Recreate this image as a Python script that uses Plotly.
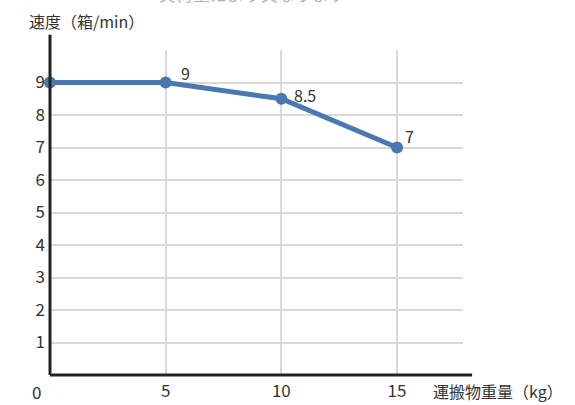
import plotly.graph_objects as go

# Conveyed load (kg) vs. speed (boxes/min)
weights = [0, 5, 10, 15]
speeds = [9, 9, 8.5, 7]
label_text = ["", "9", "8.5", "7"]
x_ticks = [5, 10, 15]
y_ticks = [1, 2, 3, 4, 5, 6, 7, 8, 9]

FONT = "Noto Sans CJK JP"
LINE_COLOR = "#4a78b0"
TEXT_COLOR = "#333333"

fig = go.Figure()
fig.add_trace(go.Scatter(
    x=weights, y=speeds,
    mode="lines+markers",
    line=dict(color=LINE_COLOR, width=5),
    marker=dict(color=LINE_COLOR, size=12),
    cliponaxis=False,
    hoverinfo="skip",
))

# Value labels beside each point (pixel offsets keep them clear of the line)
label_offsets = [(0, 0), (13, 10), (11, 4), (6, 12)]
for x, y, t, (dx, dy) in zip(weights, speeds, label_text, label_offsets):
    if t:
        fig.add_annotation(x=x, y=y, text=t, showarrow=False,
                           xanchor="left", yanchor="middle",
                           xshift=dx, yshift=dy,
                           font=dict(family=FONT, size=16, color=TEXT_COLOR))

fig.update_layout(
    width=575, height=405,
    margin=dict(l=50, r=112, t=50, b=30),
    paper_bgcolor="white", plot_bgcolor="white",
    showlegend=False,
    font=dict(family=FONT, size=17, color=TEXT_COLOR),
    xaxis=dict(
        range=[0, 17.85], tickvals=x_ticks, ticktext=[str(v) for v in x_ticks],
        showgrid=True, gridcolor="#d9d9d9", gridwidth=2,
        zeroline=False, showline=False, ticks="",
        ticklabelstandoff=4, automargin=False,
        tickfont=dict(family=FONT, size=17, color=TEXT_COLOR),
    ),
    yaxis=dict(
        range=[0, 10], tickvals=y_ticks + [10], ticktext=[str(v) for v in y_ticks] + [""],
        showgrid=True, gridcolor="#d9d9d9", gridwidth=2,
        zeroline=False, showline=False, ticks="",
        ticklabelstandoff=4, automargin=False,
        tickfont=dict(family=FONT, size=17, color=TEXT_COLOR),
    ),
)

# Axis lines, extended past the plotting area
fig.add_shape(type="line", xref="paper", yref="paper",
              x0=0, x1=0, y0=0, y1=1.047, line=dict(color="#222222", width=3))
fig.add_shape(type="line", xref="paper", yref="paper",
              x0=0, x1=1.022, y0=0, y1=0, line=dict(color="#222222", width=3))

# Origin label, axis titles and note
fig.add_annotation(xref="paper", yref="paper", x=-0.032, y=-0.05, text="0",
                   showarrow=False, xanchor="center", yanchor="middle",
                   font=dict(family=FONT, size=17, color=TEXT_COLOR))
fig.add_annotation(xref="paper", yref="paper", x=1.0, y=-0.05,
                   text="運搬物重量（kg）", showarrow=False,
                   xanchor="left", yanchor="middle",
                   xshift=-32,
                   font=dict(family=FONT, size=16, color=TEXT_COLOR))
fig.add_annotation(xref="paper", yref="paper", x=-0.06, y=1.09,
                   text="速度（箱/min）", showarrow=False,
                   xanchor="left", yanchor="middle",
                   xshift=2,
                   font=dict(family=FONT, size=16, color=TEXT_COLOR))
fig.add_annotation(xref="paper", yref="paper", x=0.5, y=1.13,
                   text="実荷重により異なります", showarrow=False,
                   xanchor="center", yanchor="bottom",
                   xshift=-4,
                   font=dict(family=FONT, size=17, color="#b0b0b0"))

fig.write_html("out.html")
